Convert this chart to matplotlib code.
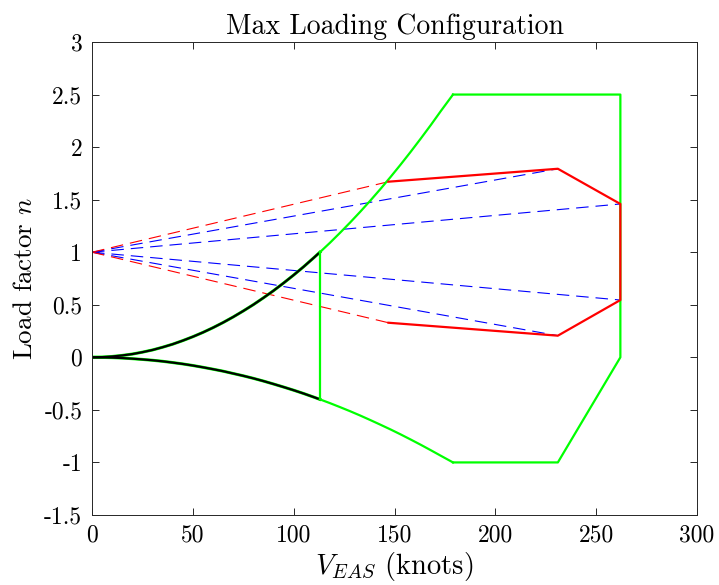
import matplotlib
matplotlib.use("Agg")
import matplotlib.pyplot as plt

plt.rcParams['font.family'] = 'cmr10'
plt.rcParams['mathtext.fontset'] = 'cm'
plt.rcParams['axes.unicode_minus'] = False
plt.rcParams['axes.formatter.use_mathtext'] = True
plt.rcParams['lines.scale_dashes'] = False

# Stall curves
v_pos_low = [0, 5, 10, 15, 20, 25, 30, 35, 40, 45, 50, 55, 60, 65, 70, 75, 80, 85, 90, 95, 100, 105, 110, 113]
n_pos_low = [0, 0.002, 0.008, 0.018, 0.031, 0.049, 0.07, 0.096, 0.125, 0.159, 0.196, 0.237, 0.282, 0.331,
             0.384, 0.441, 0.501, 0.566, 0.634, 0.707, 0.783, 0.863, 0.948, 1.0]
v_pos_high = [113, 118, 123, 128, 133, 138, 143, 148, 153, 158, 163, 168, 173, 179]
n_pos_high = [1.0, 1.09, 1.185, 1.283, 1.385, 1.491, 1.601, 1.715, 1.833, 1.955, 2.081, 2.21, 2.344, 2.5]
v_neg_low = [0, 5, 10, 15, 20, 25, 30, 35, 40, 45, 50, 55, 60, 65, 70, 75, 80, 85, 90, 95, 100, 105, 110, 113]
n_neg_low = [0, -0.001, -0.003, -0.007, -0.013, -0.02, -0.028, -0.038, -0.05, -0.063, -0.078, -0.095, -0.113,
             -0.132, -0.154, -0.176, -0.2, -0.226, -0.254, -0.283, -0.313, -0.345, -0.379, -0.4]
v_neg_high = [113, 118, 123, 128, 133, 138, 143, 148, 153, 158, 163, 168, 173, 179]
n_neg_high = [-0.4, -0.436, -0.474, -0.513, -0.554, -0.597, -0.641, -0.686, -0.733, -0.782, -0.832, -0.884,
              -0.937, -1.0]

# Manoeuvre envelope remainder
v_env = [179, 262, 262, 231, 179]
n_env = [2.5, 2.5, 0.0, -1.0, -1.0]
v_stall_line = [113, 113]
n_stall_line = [1.0, -0.4]

# Gust envelope
v_gust = [147, 231, 262, 262, 231, 147]
n_gust = [1.671, 1.794, 1.459, 0.545, 0.206, 0.329]
red_dash_end_v = [147, 147]
red_dash_end_n = [1.671, 0.329]
blue_dash_end_v = [231, 262, 262, 231]
blue_dash_end_n = [1.794, 1.459, 0.545, 0.206]

fig = plt.figure(figsize=(7.19, 5.85), dpi=100)
ax = fig.add_axes([0.128, 0.1197, 0.9694 - 0.128, 0.9282 - 0.1197])

dash = dict(lw=0.8, dashes=(9, 5))
for ve, ne in zip(blue_dash_end_v, blue_dash_end_n):
    ax.plot([0, ve], [1, ne], color='#0000ff', **dash)
for ve, ne in zip(red_dash_end_v, red_dash_end_n):
    ax.plot([0, ve], [1, ne], color='#ff0000', **dash)

g = '#00ff00'
lw = 1.6
ax.plot(v_pos_low, n_pos_low, color=g, lw=lw + 0.6)
ax.plot(v_neg_low, n_neg_low, color=g, lw=lw + 0.6)
ax.plot(v_pos_low, n_pos_low, color='k', lw=lw)
ax.plot(v_neg_low, n_neg_low, color='k', lw=lw)
ax.plot(v_pos_high, n_pos_high, color=g, lw=lw)
ax.plot(v_neg_high, n_neg_high, color=g, lw=lw)
ax.plot(v_env, n_env, color=g, lw=lw)
ax.plot(v_stall_line, n_stall_line, color=g, lw=lw)
ax.plot(v_gust, n_gust, color='#ff0000', lw=lw)

ax.set_xlim(0, 300)
ax.set_ylim(-1.5, 3)
xt = [0, 50, 100, 150, 200, 250, 300]
yt = [-1.5, -1, -0.5, 0, 0.5, 1, 1.5, 2, 2.5, 3]
ax.set_xticks(xt)
ax.set_xticklabels([str(v) for v in xt])
ax.set_yticks(yt)
ax.set_yticklabels(['-1.5', '-1', '-0.5', '0', '0.5', '1', '1.5', '2', '2.5', '3'])
ax.tick_params(direction='in', top=True, right=True, length=5, width=0.7,
               color='#262626', labelsize=17, pad=7)
for s in ax.spines.values():
    s.set_linewidth(0.7)
    s.set_color('#262626')

ax.set_title('Max Loading Configuration', fontsize=20, pad=6)
ax.set_xlabel(r'$V_{EAS}$ (knots)', fontsize=20.5, labelpad=2)
ax.set_ylabel(r'Load factor $n$', fontsize=19.5, labelpad=5)

fig.savefig('out.png', dpi=100)
